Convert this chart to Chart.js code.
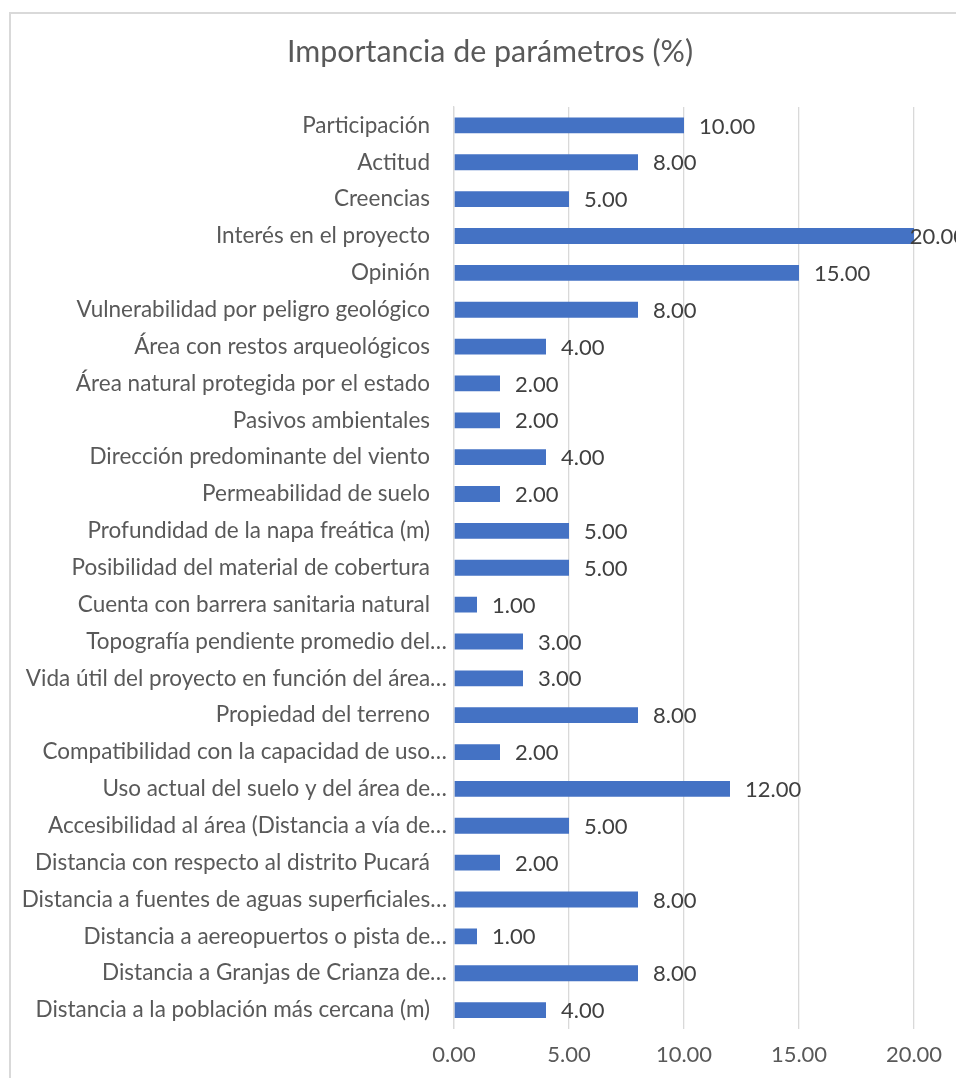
<!DOCTYPE html>
<html>
<head>
<meta charset="utf-8">
<script src="https://cdn.jsdelivr.net/npm/chart.js@4"></script>
<style>
  html, body { margin: 0; padding: 0; background: #fff; }
  canvas { display: block; }
</style>
</head>
<body>
<canvas id="chart" width="956" height="1078"></canvas>
<script>
const chartTitle = 'Importancia de parámetros (%)';

const parametros = [
    'Participación',
    'Actitud',
    'Creencias',
    'Interés en el proyecto',
    'Opinión',
    'Vulnerabilidad por peligro geológico',
    'Área con restos arqueológicos',
    'Área natural protegida por el estado',
    'Pasivos ambientales',
    'Dirección predominante del viento ',
    'Permeabilidad de suelo',
    'Profundidad de la napa freática (m)',
    'Posibilidad del material de cobertura',
    'Cuenta con barrera sanitaria natural',
    'Topografía pendiente promedio del…',
    'Vida útil del proyecto en función del área…',
    'Propiedad del terreno ',
    'Compatibilidad con la capacidad de uso…',
    'Uso actual del suelo y del área de…',
    'Accesibilidad al área (Distancia a vía de…',
    'Distancia con respecto al distrito Pucará ',
    'Distancia a fuentes de aguas superficiales…',
    'Distancia a aereopuertos o pista de…',
    'Distancia a Granjas de Crianza de…',
    'Distancia a la población más cercana (m)'
];

const importancia = [10, 8, 5, 20, 15, 8, 4, 2, 2, 4, 2, 5, 5, 1, 3, 3, 8, 2, 12, 5, 2, 8, 1, 8, 4];

const xTicks = [0, 5, 10, 15, 20];

const FONT = 'Lato, "Noto Sans", sans-serif';
const PAD_LEFT = 4;

// frame around the chart plus the centred title above the plot
const framePlugin = {
    id: 'frame',
    beforeDraw(chart) {
        const ctx = chart.ctx;
        ctx.save();
        ctx.fillStyle = '#ffffff';
        ctx.fillRect(0, 0, chart.width, chart.height);
        ctx.strokeStyle = '#d9d9d9';
        ctx.lineWidth = 2;
        ctx.strokeRect(10, 13, chart.width + 40, chart.height + 40);

        ctx.font = '30.4px ' + FONT;
        ctx.fillStyle = '#595959';
        ctx.textAlign = 'center';
        ctx.textBaseline = 'middle';
        ctx.fillText(chartTitle, 490, 52);
        ctx.restore();
    }
};

// category names on the left; the ones cut with an ellipsis run closer to the axis
const categoryLabels = {
    id: 'categoryLabels',
    afterDraw(chart) {
        const ctx = chart.ctx;
        const yScale = chart.scales.y;
        const axisX = yScale.right;
        ctx.save();
        ctx.font = '22.5px ' + FONT;
        ctx.fillStyle = '#595959';
        ctx.textAlign = 'right';
        ctx.textBaseline = 'middle';
        parametros.forEach((name, i) => {
            const txt = name.trimEnd();
            const x = txt.endsWith('…') ? axisX - 7 : axisX - 24;
            ctx.fillText(txt, x, yScale.getPixelForTick(i));
        });
        ctx.restore();
    }
};

// value written just past the end of each bar
const valueLabels = {
    id: 'valueLabels',
    afterDatasetsDraw(chart) {
        const ctx = chart.ctx;
        const meta = chart.getDatasetMeta(0);
        ctx.save();
        ctx.font = '22px ' + FONT;
        ctx.fillStyle = '#404040';
        ctx.textAlign = 'left';
        ctx.textBaseline = 'middle';
        meta.data.forEach((bar, i) => {
            const txt = importancia[i].toFixed(2);
            const w = ctx.measureText(txt).width;
            let x = bar.x + 15;
            if (x + w > 966) x = 966 - w;   // keep it inside the chart frame
            ctx.fillText(txt, x, bar.y + 1);
        });
        ctx.restore();
    }
};

new Chart(document.getElementById('chart'), {
    type: 'bar',
    data: {
        labels: parametros,
        datasets: [{
            data: importancia,
            backgroundColor: '#4472C4',
            borderWidth: 0,
            categoryPercentage: 1,
            barPercentage: 0.43
        }]
    },
    options: {
        indexAxis: 'y',
        responsive: false,
        animation: false,
        layout: { padding: { left: PAD_LEFT, right: 42, top: 107, bottom: 0 } },
        plugins: {
            legend: { display: false },
            tooltip: { enabled: false },
            title: { display: false }
        },
        scales: {
            x: {
                min: 0,
                max: 20,
                afterBuildTicks(scale) {
                    scale.ticks = xTicks.map(v => ({ value: v }));
                },
                afterFit(scale) { scale.height = 49.5; },
                grid: { color: '#d9d9d9', lineWidth: 1.3, drawTicks: false },
                border: { display: false },
                ticks: {
                    color: '#595959',
                    font: { family: FONT, size: 22 },
                    padding: 13,
                    callback: v => Number(v).toFixed(2)
                }
            },
            y: {
                afterFit(scale) { scale.width = 454 - PAD_LEFT; },
                grid: { display: false, drawTicks: false },
                border: { display: true, color: '#d9d9d9', width: 1.3 },
                ticks: { display: false, autoSkip: false }
            }
        }
    },
    plugins: [framePlugin, categoryLabels, valueLabels]
});
</script>
</body>
</html>
